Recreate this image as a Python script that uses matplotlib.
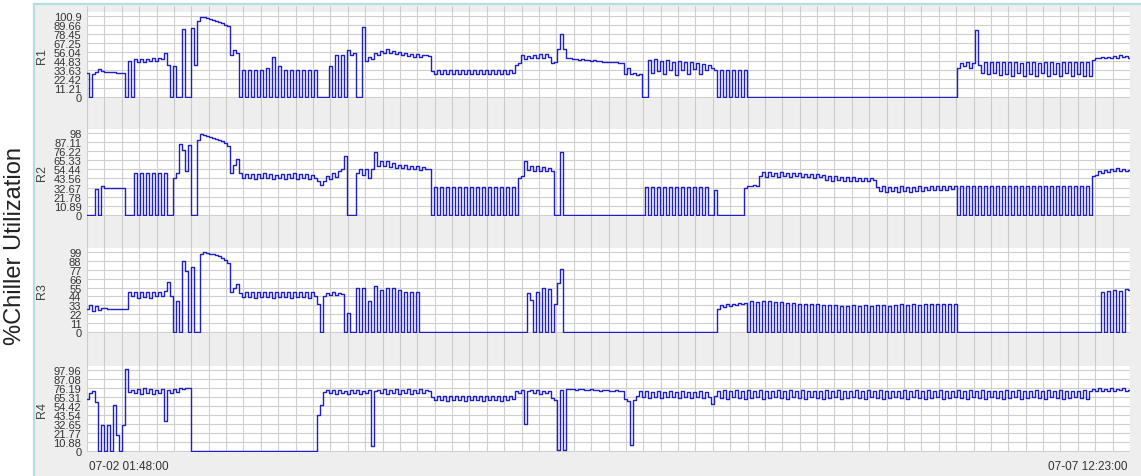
import numpy as np
import matplotlib.pyplot as plt
from matplotlib.patches import Rectangle
from matplotlib.lines import Line2D

plt.rcParams['font.family'] = ['Liberation Sans', 'DejaVu Sans']

# time span of the trend, 07-02 01:48 -> 07-07 12:23 (hours)
hours = 130.58
start_label = '07-02 01:48:00'
end_label = '07-07 12:23:00'
ylabel = '%Chiller Utilization'
names = ['R1', 'R2', 'R3', 'R4']

r1_ticks = ['0', '11.21', '22.42', '33.63', '44.83', '56.04', '67.25', '78.45', '89.66', '100.9']
r2_ticks = ['0', '10.89', '21.78', '32.67', '43.56', '54.44', '65.33', '76.22', '87.11', '98']
r3_ticks = ['0', '11', '22', '33', '44', '55', '66', '77', '88', '99']
r4_ticks = ['0', '10.88', '21.77', '32.65', '43.54', '54.42', '65.31', '76.19', '87.08', '97.96']

r1 = ([30, 0, 28, 31, 35, 32, 31, 31, 31, 31, 30, 30, 30,
       0, 45, 0, 47, 44, 47, 44, 47, 45, 48, 45, 48, 47, 55, 40,
       0, 38, 0, 0, 85, 0, 0, 86, 40, 95, 100, 99, 98, 97, 96, 95, 93, 92, 90, 88, 52, 58, 55,
       0, 34, 0, 34, 0, 34, 0, 34, 0, 36, 0, 50, 0, 38, 0, 34, 0, 34, 0, 34, 0, 34, 0, 34, 0, 33, 0, 0, 0, 0,
       38, 0, 52, 0, 52, 0, 58, 52, 55, 0, 0, 87, 45, 50, 47, 55, 52, 57, 55, 60, 55, 57, 53, 56, 52, 55, 51,
       54, 50, 53, 50, 52, 52, 51,
       32, 29, 33, 29, 33, 29, 33, 29, 33, 29, 33, 29, 33, 29, 33, 29, 33, 29, 33, 29, 33, 29, 33, 29, 33, 29, 33, 30,
       40, 42, 52, 47, 51, 48, 52, 49, 53, 48, 54, 50, 42, 44, 60, 78, 60, 48, 48,
       47, 47, 46, 47, 46, 46, 45, 46, 45, 45, 44, 44, 44, 43, 43, 42, 42, 28, 36, 28, 30, 27, 28, 0, 0,
       46, 30, 47, 32, 45, 28, 46, 34, 44, 27, 45, 33, 44, 28, 43, 35, 42, 28, 41, 34, 40, 36, 33, 0, 34, 0,
       34, 0, 34, 0, 34, 0, 33, 0]
      + [0] * 69 +
      [36, 42, 38, 43, 36, 42, 84, 40, 30, 43, 28, 44, 30, 44, 27, 43, 29, 44, 26, 43, 30, 42, 26, 44, 28,
       43, 26, 42, 30, 43, 26, 44, 28, 42, 26, 43, 30, 44, 26, 43, 28, 44, 26, 43, 26,
       46, 49, 48, 50, 49, 50, 48, 51, 49, 52, 50, 51, 49])

r2 = ([0, 0, 0, 31, 0, 34, 32, 32, 32, 32, 32, 32, 32,
       0, 0, 0, 50, 0, 50, 0, 50, 0, 50, 0, 50, 0, 50, 0,
       0, 44, 50, 85, 78, 52, 83, 0, 0, 89, 97, 95, 94, 93, 92, 91, 90, 88, 86, 82, 50, 60, 67,
       50, 44, 49, 44, 49, 43, 49, 44, 50, 44, 49, 43, 48, 44, 49, 43, 49, 44, 50, 43, 49, 44, 49, 43, 48, 44,
       40, 36, 40, 46, 43, 50, 45, 52, 55, 70,
       0, 0, 0, 50, 55, 48, 55, 44, 55, 75, 58, 65, 58, 64, 57, 62, 56, 60, 56, 60, 55, 59, 55, 58, 54, 57, 55, 55,
       0, 33, 0, 33, 0, 33, 0, 33, 0, 33, 0, 33, 0, 33, 0, 33, 0, 33, 0, 33, 0, 33, 0, 33, 0, 33, 0, 33, 0,
       44, 46, 64, 54, 59, 53, 58, 52, 57, 53, 56, 52, 0, 0, 75, 0]
      + [0] * 26 +
      [33, 0, 33, 0, 33, 0, 33, 0, 33, 0, 33, 0, 33, 0, 33, 0, 33, 0, 33, 0, 33,
       0, 0, 30, 0, 0, 0, 0, 0, 0, 0, 0, 0,
       32, 35, 34, 36, 35,
       46, 51, 45, 51, 46, 50, 45, 51, 46, 50, 45, 50, 46, 50, 45, 49, 45, 49, 44, 49, 45, 48,
       42, 46, 41, 46, 42, 45, 40, 45, 41, 45, 40, 44, 41, 44, 40, 44, 42,
       33, 29, 34, 28, 33, 29, 33, 28, 34, 29, 33, 28, 33, 29, 34, 29, 33, 30, 34, 30, 35, 30, 34, 30, 35, 31, 34,
       0, 34, 0, 34, 0, 34, 0, 34, 0, 34, 0, 34, 0, 34, 0, 34, 0, 34, 0, 34, 0, 34, 0,
       34, 0, 34, 0, 34, 0, 34, 0, 34, 0, 34, 0, 34, 0, 34, 0, 34, 0, 34, 0, 34, 0,
       46, 48, 52, 50, 54, 51, 55, 52, 56, 53, 55, 52, 54])

r3 = ([29, 33, 26, 32, 27, 30, 30, 29, 29, 29, 29, 28, 28, 28,
       50, 44, 50, 42, 49, 43, 50, 42, 49, 44, 50, 45, 51,
       62, 45, 0, 38, 0, 88, 76, 0, 80, 0, 0,
       96, 99, 98, 97, 96, 95, 94, 92, 89, 85,
       50, 54, 59,
       48, 43, 50, 43, 50, 42, 50, 43, 49, 43, 50, 42, 50, 43, 49, 43, 50, 42, 50, 43, 49, 43, 50, 42, 49, 44,
       35, 0, 45, 48, 46, 49, 46, 48, 47, 0, 23, 0, 0, 54,
       0, 54, 0, 38, 0, 57, 0, 52, 0, 55, 0, 55, 0, 52, 0, 50, 0, 50, 0, 50, 0]
      + [0] * 35 +
      [48, 39, 0, 50, 0, 54, 0, 53, 0, 35, 60, 78, 0]
      + [0] * 50 +
      [29, 33, 31, 35, 32, 35, 33, 36, 34, 36,
       0, 38, 0, 37, 0, 38, 0, 38, 0, 37, 0, 37, 0, 36, 0, 36, 0, 35, 0, 35, 0, 34, 0, 34, 0,
       33, 0, 33, 0, 33, 0, 32, 0, 32, 0, 33, 0, 32, 0, 33, 0, 32, 0, 33, 0, 33, 0, 32, 0, 33,
       0, 34, 0, 33, 0, 34, 0, 33, 0, 34, 0, 35, 0, 34, 0, 35, 0, 34, 0, 35]
      + [0] * 48 +
      [50, 0, 51, 0, 52, 0, 51, 0, 53, 52])

r4 = ([63, 70, 72, 59, 0, 31, 0, 31, 0, 55, 19, 0, 31, 99, 71, 74,
       70, 75, 69, 76, 70, 75, 69, 74, 70, 75, 36, 74, 70, 75, 71, 76, 75, 76, 76]
      + [0] * 42 +
      [43, 55, 71,
       74, 70, 74, 69, 74, 70, 73, 69, 74, 70, 74, 69, 73, 70, 74,
       6, 72,
       74, 70, 75, 69, 74, 70, 75, 69, 74, 70, 75, 69, 74, 70, 75, 70, 74, 72,
       65, 62, 66, 62, 66, 61, 66, 62, 67, 62, 66, 61, 66, 62, 66, 62, 67, 61, 66, 62, 66, 62, 67, 61, 66, 62, 66, 63,
       73, 70, 74, 33, 72, 74, 70, 74, 69, 73, 70, 73, 64, 62, 1, 74, 1, 75,
       75, 75, 74, 75, 75, 74, 74, 75, 74, 74, 73, 74, 74, 73, 73, 74, 73, 73,
       63, 60, 7, 62, 66,
       72, 65, 72, 64, 71, 65, 72, 64, 71, 65, 72, 65, 71, 64, 72, 65, 71, 64, 71, 65, 72, 64, 71, 65,
       57, 66,
       73, 64, 74, 63, 73, 65, 74, 64, 73, 63, 74, 64, 73, 65, 74, 63, 73, 64, 72, 65,
       74, 64, 73, 63, 74, 65, 73, 64, 74, 63, 73, 65, 72, 64, 73, 63, 74, 64, 73, 65,
       74, 63, 73, 64, 72, 65, 74, 64, 73, 63, 74, 65, 73, 64, 74, 63, 73, 64, 72, 65,
       73, 64, 74, 63, 73, 65, 74, 64, 73, 63, 74, 64, 73, 65, 74, 63, 73, 64, 72, 65,
       74, 64, 73, 63, 74, 65, 73, 64, 74, 63, 73, 65, 72, 64, 73, 63, 74, 64, 73, 65,
       74, 63, 73, 64, 72, 65, 74, 64, 73, 63, 74, 65, 73, 64, 74, 63, 73, 64, 72, 65,
       73, 64, 74, 63, 73,
       75, 73, 76, 72, 75, 73, 76, 72, 75, 74, 76, 73, 74])

series = [r1, r2, r3, r4]
tick_sets = [r1_ticks, r2_ticks, r3_ticks, r4_ticks]

W, H = 1141, 477
fig = plt.figure(figsize=(W / 100, H / 100), dpi=100)
fig.patch.set_facecolor('white')

# grey panel with light blue frame on left/top
fig.add_artist(Rectangle((34 / W, 0), 1 - 34 / W, 1 - 5 / H, transform=fig.transFigure,
                         facecolor='#eeeeee', edgecolor='none', zorder=-2))
fig.add_artist(Line2D([34 / W, 34 / W], [0, 1 - 5 / H], color='#b5dde6', lw=1.6, zorder=-1))
fig.add_artist(Line2D([34 / W, 1], [1 - 5 / H, 1 - 5 / H], color='#b5dde6', lw=1.6, zorder=-1))

left_px, right_px = 87, 1130
xgrid = np.linspace(0, hours, 61)

# vertical grid running through the gaps between panels
bg = fig.add_axes([left_px / W, 1 - 453 / H, (right_px - left_px) / W, (453 - 7) / H])
bg.set_facecolor('none')
bg.set_xlim(0, hours)
bg.set_xticks(xgrid)
bg.set_yticks([])
bg.grid(axis='x', color='#cbcbcb', lw=0.8)
bg.tick_params(length=0, labelbottom=False)
for s in bg.spines.values():
    s.set_visible(False)

boxes = [(13, 99), (130, 217), (249, 334), (367, 453)]
for name, vals, ticks, (top, bot) in zip(names, series, tick_sets, boxes):
    ax = fig.add_axes([left_px / W, 1 - bot / H, (right_px - left_px) / W, (bot - top) / H])
    ax.set_facecolor('white')
    t = np.linspace(0, hours, len(vals))
    ax.plot(t, vals, color='#1f1fc4', lw=1.0, drawstyle='steps-mid')
    tv = [float(s) for s in ticks]
    ymax = tv[-1] * (bot - top) / (bot - top - 4)
    ax.set_xlim(0, hours)
    ax.set_ylim(-tv[-1] * 0.013, ymax)
    ax.set_xticks(xgrid)
    ax.set_yticks(tv)
    ax.set_yticklabels(ticks)
    ax.grid(True, color='#cfcfcf', lw=0.8)
    ax.set_axisbelow(True)
    ax.tick_params(length=0, labelbottom=False, labelsize=8, colors='#333333', pad=4)
    for s in ax.spines.values():
        s.set_visible(False)
    fig.text(42 / W, 1 - (top + bot) / 2 / H, name, rotation=90, ha='center', va='center',
             fontsize=9, color='#444444')

fig.text(15 / W, 1 - 246 / H, ylabel, rotation=90, ha='center', va='center', fontsize=17, color='#222222')
fig.text(89 / W, 1 - 467 / H, start_label, ha='left', va='center', fontsize=8.5, color='#333333')
fig.text(1127 / W, 1 - 467 / H, end_label, ha='right', va='center', fontsize=8.5, color='#333333')

fig.savefig('out.png', dpi=100)
